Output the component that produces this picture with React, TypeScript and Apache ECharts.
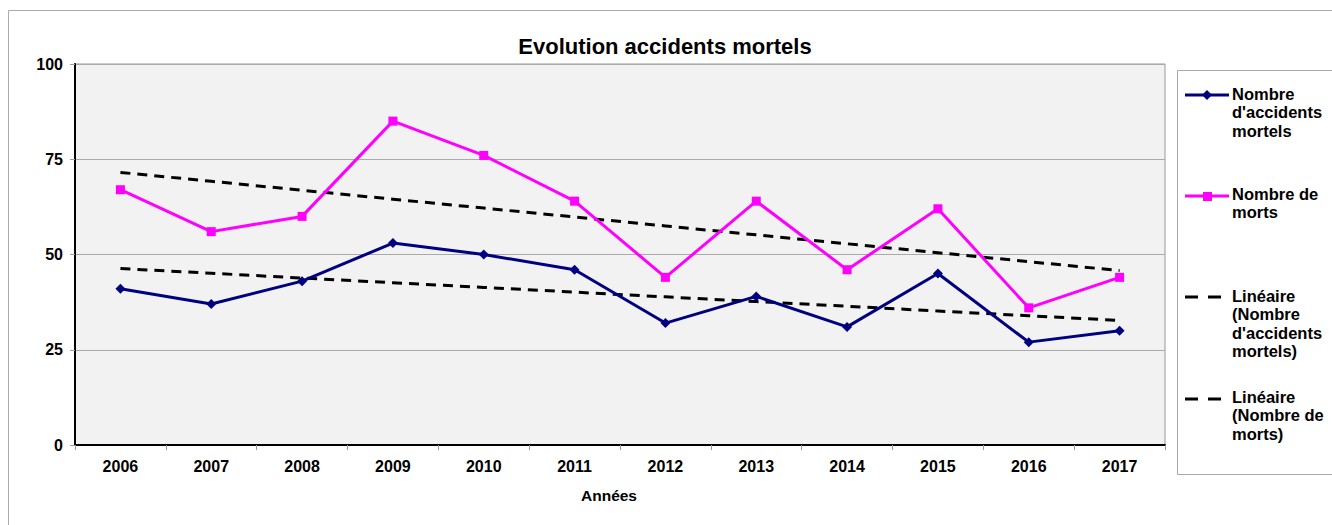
import React, { useEffect, useRef } from "react";
import * as echarts from "echarts";

const years = ["2006", "2007", "2008", "2009", "2010", "2011", "2012", "2013", "2014", "2015", "2016", "2017"];
const accidents = [41, 37, 43, 53, 50, 46, 32, 39, 31, 45, 27, 30];
const morts = [67, 56, 60, 85, 76, 64, 44, 64, 46, 62, 36, 44];
const yTicks = [0, 25, 50, 75, 100];

function linearTrend(values: number[]): number[] {
  const n = values.length;
  const mx = (n - 1) / 2;
  const my = values.reduce((a, b) => a + b, 0) / n;
  let sxy = 0;
  let sxx = 0;
  values.forEach((v, i) => {
    sxy += (i - mx) * (v - my);
    sxx += (i - mx) * (i - mx);
  });
  const slope = sxy / sxx;
  return values.map((_, i) => +(my + slope * (i - mx)).toFixed(3));
}

const FONT = "Liberation Sans, Arial, sans-serif";

export default function App() {
  const ref = useRef<HTMLDivElement>(null);
  useEffect(() => {
    document.body.style.margin = "0";
    if (!ref.current) return;
    const chart = echarts.init(ref.current, undefined, { renderer: "svg" });
    const trendA = linearTrend(accidents);
    const trendM = linearTrend(morts);
    const legendText = (x: number, y: number, lines: string[]) =>
      lines.map((t, i) => ({
        type: "text",
        left: x,
        top: y + i * 18.5,
        style: { text: t, font: `bold 16.5px ${FONT}`, fill: "#000" },
      }));
    chart.setOption({
      animation: false,
      backgroundColor: "#fff",
      title: {
        text: "Evolution accidents mortels",
        left: 660,
        top: 30,
        textAlign: "center",
        textStyle: { fontFamily: FONT, fontSize: 22, fontWeight: "bold", color: "#000" },
      },
      grid: {
        left: 75,
        top: 64,
        width: 1090,
        height: 381,
        show: true,
        backgroundColor: "#f2f2f2",
        borderColor: "#999",
        borderWidth: 1,
      },
      xAxis: {
        type: "category",
        data: years,
        boundaryGap: true,
        axisLine: { lineStyle: { color: "#000", width: 2 } },
        axisTick: { show: true, alignWithLabel: false, length: 5, lineStyle: { color: "#999" } },
        axisLabel: { fontFamily: FONT, fontSize: 16, fontWeight: "bold", color: "#000", margin: 13 },
        splitLine: { show: false },
      },
      yAxis: {
        type: "value",
        min: 0,
        max: 100,
        interval: 25,
        axisLine: { show: true, lineStyle: { color: "#000", width: 2 } },
        axisTick: { show: true, length: 5, lineStyle: { color: "#999" } },
        axisLabel: {
          fontFamily: FONT,
          fontSize: 16,
          fontWeight: "bold",
          color: "#000",
          margin: 12,
          formatter: (v: number) => (yTicks.includes(v) ? String(v) : ""),
        },
        splitLine: { show: true, lineStyle: { color: "#aaa", width: 1 } },
      },
      series: [
        {
          name: "Nombre d'accidents mortels",
          type: "line",
          data: accidents,
          symbol: "diamond",
          symbolSize: 10,
          lineStyle: { color: "#000080", width: 3 },
          itemStyle: { color: "#000080" },
          z: 3,
        },
        {
          name: "Nombre de morts",
          type: "line",
          data: morts,
          symbol: "rect",
          symbolSize: 9,
          lineStyle: { color: "#ff00ff", width: 3 },
          itemStyle: { color: "#ff00ff" },
          z: 3,
        },
        {
          name: "Linéaire (Nombre d'accidents mortels)",
          type: "line",
          data: trendA,
          symbol: "none",
          lineStyle: { color: "#000", width: 3, type: [10, 7] },
          z: 2,
        },
        {
          name: "Linéaire (Nombre de morts)",
          type: "line",
          data: trendM,
          symbol: "none",
          lineStyle: { color: "#000", width: 3, type: [10, 7] },
          z: 2,
        },
      ],
      graphic: [
        {
          type: "rect",
          shape: { x: 8.5, y: 10.5, width: 1400, height: 600 },
          style: { fill: "none", stroke: "#aaa", lineWidth: 1 },
          silent: true,
          z: -10,
        },
        {
          type: "rect",
          shape: { x: 1177.5, y: 70.5, width: 300, height: 404 },
          style: { fill: "#fff", stroke: "#aaa", lineWidth: 1 },
          silent: true,
        },
        {
          type: "text",
          left: 581,
          top: 487,
          style: { text: "Années", font: `bold 15.5px ${FONT}`, fill: "#000" },
        },
        // legend item 1
        { type: "line", shape: { x1: 1185, y1: 95, x2: 1229, y2: 95 }, style: { stroke: "#000080", lineWidth: 3 } },
        { type: "polygon", shape: { points: [[1207, 90], [1212, 95], [1207, 100], [1202, 95]] }, style: { fill: "#000080" } },
        ...legendText(1232, 85, ["Nombre", "d'accidents", "mortels"]),
        // legend item 2
        { type: "line", shape: { x1: 1185, y1: 196, x2: 1229, y2: 196 }, style: { stroke: "#ff00ff", lineWidth: 3 } },
        { type: "rect", shape: { x: 1203, y: 192, width: 9, height: 9 }, style: { fill: "#ff00ff" } },
        ...legendText(1232, 185, ["Nombre de", "morts"]),
        // legend item 3
        { type: "line", shape: { x1: 1185, y1: 297, x2: 1221, y2: 297 }, style: { stroke: "#000", lineWidth: 3, lineDash: [13, 10] } },
        ...legendText(1232, 287, ["Linéaire", "(Nombre", "d'accidents", "mortels)"]),
        // legend item 4
        { type: "line", shape: { x1: 1185, y1: 399, x2: 1221, y2: 399 }, style: { stroke: "#000", lineWidth: 3, lineDash: [13, 10] } },
        ...legendText(1232, 388, ["Linéaire", "(Nombre de", "morts)"]),
      ],
    });
    return () => chart.dispose();
  }, []);
  return <div ref={ref} style={{ width: 1332, height: 525 }} />;
}
